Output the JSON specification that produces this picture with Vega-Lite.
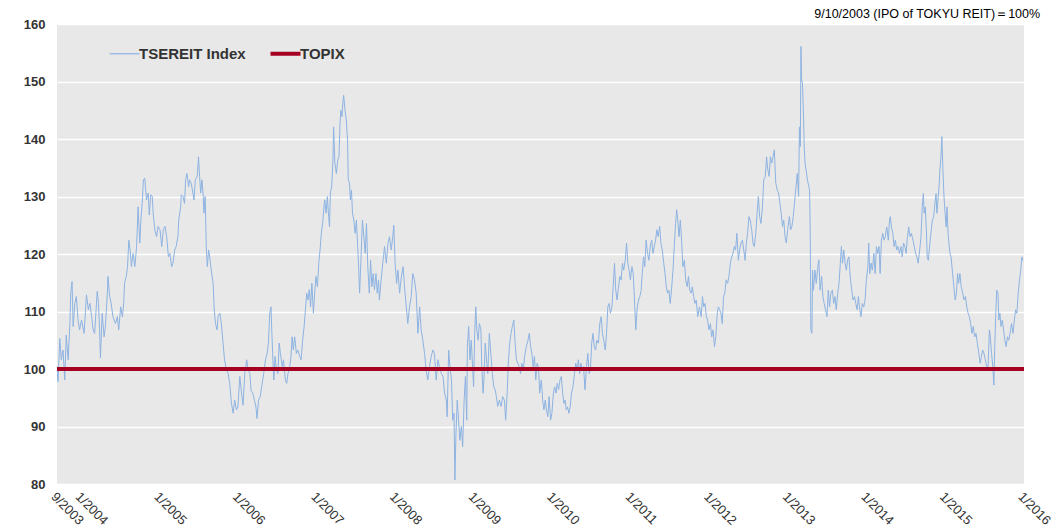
{
  "$schema": "https://vega.github.io/schema/vega-lite/v6.json",
  "width": 967,
  "height": 460,
  "autosize": {"type": "none"},
  "padding": {"left": 57, "top": 24, "right": 40, "bottom": 45},
  "background": "white",
  "config": {"view": {"fill": "#e8e8e8", "stroke": null}, "font": "Liberation Sans"},
  "title": {"text": "9/10/2003 (IPO of TOKYU REIT)＝100%", "anchor": "end", "fontSize": 12.5, "fontWeight": "normal", "color": "#000000", "dx": -12, "dy": 6, "offset": 4, "font": "Liberation Sans"},
  "data": {"values": [
    {"d":"2003-09-10","v":100,"s":"TSEREIT Index"},
    {"d":"2003-09-15","v":97.8,"s":"TSEREIT Index"},
    {"d":"2003-09-23","v":105.3,"s":"TSEREIT Index"},
    {"d":"2003-09-30","v":101.6,"s":"TSEREIT Index"},
    {"d":"2003-10-08","v":103.3,"s":"TSEREIT Index"},
    {"d":"2003-10-16","v":98.1,"s":"TSEREIT Index"},
    {"d":"2003-10-23","v":105.9,"s":"TSEREIT Index"},
    {"d":"2003-11-01","v":101.6,"s":"TSEREIT Index"},
    {"d":"2003-11-09","v":107.9,"s":"TSEREIT Index"},
    {"d":"2003-11-13","v":113.2,"s":"TSEREIT Index"},
    {"d":"2003-11-19","v":115.2,"s":"TSEREIT Index"},
    {"d":"2003-11-24","v":107.4,"s":"TSEREIT Index"},
    {"d":"2003-12-02","v":111.4,"s":"TSEREIT Index"},
    {"d":"2003-12-09","v":112.6,"s":"TSEREIT Index"},
    {"d":"2003-12-17","v":108.5,"s":"TSEREIT Index"},
    {"d":"2003-12-24","v":106.8,"s":"TSEREIT Index"},
    {"d":"2004-01-02","v":108.5,"s":"TSEREIT Index"},
    {"d":"2004-01-14","v":106.2,"s":"TSEREIT Index"},
    {"d":"2004-01-25","v":112.9,"s":"TSEREIT Index"},
    {"d":"2004-02-03","v":110.3,"s":"TSEREIT Index"},
    {"d":"2004-02-10","v":111.4,"s":"TSEREIT Index"},
    {"d":"2004-02-18","v":109.1,"s":"TSEREIT Index"},
    {"d":"2004-02-25","v":106.8,"s":"TSEREIT Index"},
    {"d":"2004-03-03","v":106.2,"s":"TSEREIT Index"},
    {"d":"2004-03-15","v":113.5,"s":"TSEREIT Index"},
    {"d":"2004-03-21","v":111.4,"s":"TSEREIT Index"},
    {"d":"2004-03-26","v":106.8,"s":"TSEREIT Index"},
    {"d":"2004-03-30","v":101.9,"s":"TSEREIT Index"},
    {"d":"2004-04-07","v":109.7,"s":"TSEREIT Index"},
    {"d":"2004-04-16","v":105.6,"s":"TSEREIT Index"},
    {"d":"2004-04-22","v":107.4,"s":"TSEREIT Index"},
    {"d":"2004-05-01","v":113.2,"s":"TSEREIT Index"},
    {"d":"2004-05-04","v":116.1,"s":"TSEREIT Index"},
    {"d":"2004-05-12","v":112.6,"s":"TSEREIT Index"},
    {"d":"2004-05-19","v":111.4,"s":"TSEREIT Index"},
    {"d":"2004-05-27","v":109.1,"s":"TSEREIT Index"},
    {"d":"2004-06-08","v":107.9,"s":"TSEREIT Index"},
    {"d":"2004-06-17","v":109.1,"s":"TSEREIT Index"},
    {"d":"2004-06-23","v":106.8,"s":"TSEREIT Index"},
    {"d":"2004-07-02","v":110.8,"s":"TSEREIT Index"},
    {"d":"2004-07-10","v":109.1,"s":"TSEREIT Index"},
    {"d":"2004-07-16","v":111.4,"s":"TSEREIT Index"},
    {"d":"2004-07-20","v":114.9,"s":"TSEREIT Index"},
    {"d":"2004-07-28","v":116.1,"s":"TSEREIT Index"},
    {"d":"2004-08-03","v":117.8,"s":"TSEREIT Index"},
    {"d":"2004-08-09","v":122.4,"s":"TSEREIT Index"},
    {"d":"2004-08-15","v":120.7,"s":"TSEREIT Index"},
    {"d":"2004-08-21","v":117.8,"s":"TSEREIT Index"},
    {"d":"2004-08-29","v":120.1,"s":"TSEREIT Index"},
    {"d":"2004-09-06","v":117.8,"s":"TSEREIT Index"},
    {"d":"2004-09-14","v":121.3,"s":"TSEREIT Index"},
    {"d":"2004-09-21","v":128.2,"s":"TSEREIT Index"},
    {"d":"2004-09-29","v":121.9,"s":"TSEREIT Index"},
    {"d":"2004-10-04","v":125.9,"s":"TSEREIT Index"},
    {"d":"2004-10-10","v":128.8,"s":"TSEREIT Index"},
    {"d":"2004-10-16","v":132.9,"s":"TSEREIT Index"},
    {"d":"2004-10-22","v":133.2,"s":"TSEREIT Index"},
    {"d":"2004-10-30","v":129.4,"s":"TSEREIT Index"},
    {"d":"2004-11-07","v":130.6,"s":"TSEREIT Index"},
    {"d":"2004-11-12","v":126.8,"s":"TSEREIT Index"},
    {"d":"2004-11-19","v":130.3,"s":"TSEREIT Index"},
    {"d":"2004-11-26","v":130.0,"s":"TSEREIT Index"},
    {"d":"2004-11-30","v":127.1,"s":"TSEREIT Index"},
    {"d":"2004-12-08","v":124.2,"s":"TSEREIT Index"},
    {"d":"2004-12-16","v":123.0,"s":"TSEREIT Index"},
    {"d":"2004-12-23","v":124.8,"s":"TSEREIT Index"},
    {"d":"2005-01-01","v":124.2,"s":"TSEREIT Index"},
    {"d":"2005-01-09","v":121.3,"s":"TSEREIT Index"},
    {"d":"2005-01-16","v":124.2,"s":"TSEREIT Index"},
    {"d":"2005-01-24","v":124.8,"s":"TSEREIT Index"},
    {"d":"2005-02-01","v":123.0,"s":"TSEREIT Index"},
    {"d":"2005-02-09","v":119.5,"s":"TSEREIT Index"},
    {"d":"2005-02-16","v":120.1,"s":"TSEREIT Index"},
    {"d":"2005-02-24","v":117.8,"s":"TSEREIT Index"},
    {"d":"2005-03-02","v":118.4,"s":"TSEREIT Index"},
    {"d":"2005-03-10","v":120.7,"s":"TSEREIT Index"},
    {"d":"2005-03-17","v":121.3,"s":"TSEREIT Index"},
    {"d":"2005-03-25","v":123.0,"s":"TSEREIT Index"},
    {"d":"2005-03-29","v":125.9,"s":"TSEREIT Index"},
    {"d":"2005-04-07","v":128.2,"s":"TSEREIT Index"},
    {"d":"2005-04-10","v":130.3,"s":"TSEREIT Index"},
    {"d":"2005-04-18","v":130.0,"s":"TSEREIT Index"},
    {"d":"2005-04-25","v":128.8,"s":"TSEREIT Index"},
    {"d":"2005-04-30","v":132.9,"s":"TSEREIT Index"},
    {"d":"2005-05-06","v":134.0,"s":"TSEREIT Index"},
    {"d":"2005-05-14","v":131.7,"s":"TSEREIT Index"},
    {"d":"2005-05-18","v":132.9,"s":"TSEREIT Index"},
    {"d":"2005-05-26","v":132.3,"s":"TSEREIT Index"},
    {"d":"2005-06-03","v":130.6,"s":"TSEREIT Index"},
    {"d":"2005-06-08","v":129.4,"s":"TSEREIT Index"},
    {"d":"2005-06-14","v":132.9,"s":"TSEREIT Index"},
    {"d":"2005-06-23","v":133.5,"s":"TSEREIT Index"},
    {"d":"2005-06-29","v":136.9,"s":"TSEREIT Index"},
    {"d":"2005-07-04","v":133.5,"s":"TSEREIT Index"},
    {"d":"2005-07-09","v":130.6,"s":"TSEREIT Index"},
    {"d":"2005-07-15","v":132.9,"s":"TSEREIT Index"},
    {"d":"2005-07-21","v":130.0,"s":"TSEREIT Index"},
    {"d":"2005-07-24","v":127.1,"s":"TSEREIT Index"},
    {"d":"2005-07-30","v":130.0,"s":"TSEREIT Index"},
    {"d":"2005-08-04","v":121.3,"s":"TSEREIT Index"},
    {"d":"2005-08-09","v":117.8,"s":"TSEREIT Index"},
    {"d":"2005-08-15","v":120.7,"s":"TSEREIT Index"},
    {"d":"2005-08-20","v":119.5,"s":"TSEREIT Index"},
    {"d":"2005-08-27","v":117.2,"s":"TSEREIT Index"},
    {"d":"2005-09-05","v":114.9,"s":"TSEREIT Index"},
    {"d":"2005-09-10","v":110.3,"s":"TSEREIT Index"},
    {"d":"2005-09-16","v":107.9,"s":"TSEREIT Index"},
    {"d":"2005-09-23","v":106.8,"s":"TSEREIT Index"},
    {"d":"2005-09-28","v":109.1,"s":"TSEREIT Index"},
    {"d":"2005-10-06","v":109.7,"s":"TSEREIT Index"},
    {"d":"2005-10-13","v":107.9,"s":"TSEREIT Index"},
    {"d":"2005-10-21","v":104.5,"s":"TSEREIT Index"},
    {"d":"2005-10-28","v":101.6,"s":"TSEREIT Index"},
    {"d":"2005-11-06","v":99.8,"s":"TSEREIT Index"},
    {"d":"2005-11-14","v":99.2,"s":"TSEREIT Index"},
    {"d":"2005-11-21","v":97.5,"s":"TSEREIT Index"},
    {"d":"2005-11-29","v":94.0,"s":"TSEREIT Index"},
    {"d":"2005-12-07","v":92.3,"s":"TSEREIT Index"},
    {"d":"2005-12-14","v":94.6,"s":"TSEREIT Index"},
    {"d":"2005-12-22","v":92.9,"s":"TSEREIT Index"},
    {"d":"2005-12-29","v":93.4,"s":"TSEREIT Index"},
    {"d":"2006-01-07","v":98.7,"s":"TSEREIT Index"},
    {"d":"2006-01-15","v":95.8,"s":"TSEREIT Index"},
    {"d":"2006-01-22","v":93.7,"s":"TSEREIT Index"},
    {"d":"2006-01-30","v":99.2,"s":"TSEREIT Index"},
    {"d":"2006-02-08","v":101.6,"s":"TSEREIT Index"},
    {"d":"2006-02-15","v":99.8,"s":"TSEREIT Index"},
    {"d":"2006-02-23","v":99.2,"s":"TSEREIT Index"},
    {"d":"2006-02-28","v":96.3,"s":"TSEREIT Index"},
    {"d":"2006-03-08","v":95.8,"s":"TSEREIT Index"},
    {"d":"2006-03-16","v":94.6,"s":"TSEREIT Index"},
    {"d":"2006-03-23","v":93.4,"s":"TSEREIT Index"},
    {"d":"2006-03-28","v":91.4,"s":"TSEREIT Index"},
    {"d":"2006-04-04","v":94.6,"s":"TSEREIT Index"},
    {"d":"2006-04-12","v":95.2,"s":"TSEREIT Index"},
    {"d":"2006-04-19","v":97.0,"s":"TSEREIT Index"},
    {"d":"2006-04-28","v":99.2,"s":"TSEREIT Index"},
    {"d":"2006-05-06","v":101.6,"s":"TSEREIT Index"},
    {"d":"2006-05-14","v":102.7,"s":"TSEREIT Index"},
    {"d":"2006-05-20","v":104.5,"s":"TSEREIT Index"},
    {"d":"2006-05-26","v":109.7,"s":"TSEREIT Index"},
    {"d":"2006-06-01","v":110.8,"s":"TSEREIT Index"},
    {"d":"2006-06-05","v":106.2,"s":"TSEREIT Index"},
    {"d":"2006-06-10","v":101.6,"s":"TSEREIT Index"},
    {"d":"2006-06-14","v":98.1,"s":"TSEREIT Index"},
    {"d":"2006-06-20","v":102.2,"s":"TSEREIT Index"},
    {"d":"2006-06-26","v":99.8,"s":"TSEREIT Index"},
    {"d":"2006-07-03","v":99.2,"s":"TSEREIT Index"},
    {"d":"2006-07-09","v":104.5,"s":"TSEREIT Index"},
    {"d":"2006-07-15","v":102.7,"s":"TSEREIT Index"},
    {"d":"2006-07-23","v":100.4,"s":"TSEREIT Index"},
    {"d":"2006-07-29","v":101.6,"s":"TSEREIT Index"},
    {"d":"2006-08-07","v":98.1,"s":"TSEREIT Index"},
    {"d":"2006-08-13","v":97.5,"s":"TSEREIT Index"},
    {"d":"2006-08-19","v":99.2,"s":"TSEREIT Index"},
    {"d":"2006-08-27","v":100.4,"s":"TSEREIT Index"},
    {"d":"2006-09-02","v":102.2,"s":"TSEREIT Index"},
    {"d":"2006-09-07","v":105.6,"s":"TSEREIT Index"},
    {"d":"2006-09-13","v":103.3,"s":"TSEREIT Index"},
    {"d":"2006-09-19","v":105.6,"s":"TSEREIT Index"},
    {"d":"2006-09-27","v":102.7,"s":"TSEREIT Index"},
    {"d":"2006-10-04","v":103.3,"s":"TSEREIT Index"},
    {"d":"2006-10-12","v":102.2,"s":"TSEREIT Index"},
    {"d":"2006-10-19","v":101.6,"s":"TSEREIT Index"},
    {"d":"2006-10-26","v":105.0,"s":"TSEREIT Index"},
    {"d":"2006-11-02","v":107.4,"s":"TSEREIT Index"},
    {"d":"2006-11-08","v":110.3,"s":"TSEREIT Index"},
    {"d":"2006-11-14","v":113.2,"s":"TSEREIT Index"},
    {"d":"2006-11-20","v":112.0,"s":"TSEREIT Index"},
    {"d":"2006-11-26","v":113.8,"s":"TSEREIT Index"},
    {"d":"2006-12-02","v":110.8,"s":"TSEREIT Index"},
    {"d":"2006-12-08","v":114.9,"s":"TSEREIT Index"},
    {"d":"2006-12-15","v":109.7,"s":"TSEREIT Index"},
    {"d":"2006-12-21","v":113.2,"s":"TSEREIT Index"},
    {"d":"2006-12-27","v":116.1,"s":"TSEREIT Index"},
    {"d":"2007-01-03","v":114.3,"s":"TSEREIT Index"},
    {"d":"2007-01-09","v":118.4,"s":"TSEREIT Index"},
    {"d":"2007-01-15","v":120.7,"s":"TSEREIT Index"},
    {"d":"2007-01-21","v":123.6,"s":"TSEREIT Index"},
    {"d":"2007-01-27","v":125.3,"s":"TSEREIT Index"},
    {"d":"2007-02-02","v":128.2,"s":"TSEREIT Index"},
    {"d":"2007-02-06","v":129.4,"s":"TSEREIT Index"},
    {"d":"2007-02-12","v":127.1,"s":"TSEREIT Index"},
    {"d":"2007-02-18","v":130.0,"s":"TSEREIT Index"},
    {"d":"2007-02-24","v":126.5,"s":"TSEREIT Index"},
    {"d":"2007-02-28","v":124.7,"s":"TSEREIT Index"},
    {"d":"2007-03-04","v":130.6,"s":"TSEREIT Index"},
    {"d":"2007-03-10","v":131.7,"s":"TSEREIT Index"},
    {"d":"2007-03-16","v":136.3,"s":"TSEREIT Index"},
    {"d":"2007-03-19","v":142.1,"s":"TSEREIT Index"},
    {"d":"2007-03-25","v":135.8,"s":"TSEREIT Index"},
    {"d":"2007-04-01","v":134.0,"s":"TSEREIT Index"},
    {"d":"2007-04-07","v":136.3,"s":"TSEREIT Index"},
    {"d":"2007-04-13","v":136.9,"s":"TSEREIT Index"},
    {"d":"2007-04-18","v":142.7,"s":"TSEREIT Index"},
    {"d":"2007-04-22","v":145.0,"s":"TSEREIT Index"},
    {"d":"2007-04-27","v":143.9,"s":"TSEREIT Index"},
    {"d":"2007-05-02","v":146.8,"s":"TSEREIT Index"},
    {"d":"2007-05-05","v":147.6,"s":"TSEREIT Index"},
    {"d":"2007-05-11","v":145.0,"s":"TSEREIT Index"},
    {"d":"2007-05-17","v":143.3,"s":"TSEREIT Index"},
    {"d":"2007-05-23","v":139.8,"s":"TSEREIT Index"},
    {"d":"2007-05-26","v":132.9,"s":"TSEREIT Index"},
    {"d":"2007-06-01","v":132.3,"s":"TSEREIT Index"},
    {"d":"2007-06-05","v":129.4,"s":"TSEREIT Index"},
    {"d":"2007-06-10","v":131.1,"s":"TSEREIT Index"},
    {"d":"2007-06-15","v":127.1,"s":"TSEREIT Index"},
    {"d":"2007-06-21","v":125.9,"s":"TSEREIT Index"},
    {"d":"2007-06-27","v":123.6,"s":"TSEREIT Index"},
    {"d":"2007-07-03","v":125.9,"s":"TSEREIT Index"},
    {"d":"2007-07-09","v":121.3,"s":"TSEREIT Index"},
    {"d":"2007-07-14","v":117.2,"s":"TSEREIT Index"},
    {"d":"2007-07-18","v":113.2,"s":"TSEREIT Index"},
    {"d":"2007-07-24","v":118.9,"s":"TSEREIT Index"},
    {"d":"2007-07-31","v":125.9,"s":"TSEREIT Index"},
    {"d":"2007-08-07","v":123.0,"s":"TSEREIT Index"},
    {"d":"2007-08-13","v":120.1,"s":"TSEREIT Index"},
    {"d":"2007-08-19","v":125.3,"s":"TSEREIT Index"},
    {"d":"2007-08-25","v":117.8,"s":"TSEREIT Index"},
    {"d":"2007-09-01","v":113.2,"s":"TSEREIT Index"},
    {"d":"2007-09-07","v":118.9,"s":"TSEREIT Index"},
    {"d":"2007-09-13","v":114.3,"s":"TSEREIT Index"},
    {"d":"2007-09-19","v":116.6,"s":"TSEREIT Index"},
    {"d":"2007-09-25","v":113.8,"s":"TSEREIT Index"},
    {"d":"2007-10-02","v":116.6,"s":"TSEREIT Index"},
    {"d":"2007-10-08","v":113.2,"s":"TSEREIT Index"},
    {"d":"2007-10-14","v":115.5,"s":"TSEREIT Index"},
    {"d":"2007-10-18","v":112.0,"s":"TSEREIT Index"},
    {"d":"2007-10-26","v":115.5,"s":"TSEREIT Index"},
    {"d":"2007-11-04","v":118.9,"s":"TSEREIT Index"},
    {"d":"2007-11-11","v":121.3,"s":"TSEREIT Index"},
    {"d":"2007-11-19","v":118.4,"s":"TSEREIT Index"},
    {"d":"2007-11-27","v":121.9,"s":"TSEREIT Index"},
    {"d":"2007-12-04","v":123.0,"s":"TSEREIT Index"},
    {"d":"2007-12-12","v":120.7,"s":"TSEREIT Index"},
    {"d":"2007-12-19","v":123.0,"s":"TSEREIT Index"},
    {"d":"2007-12-24","v":125.0,"s":"TSEREIT Index"},
    {"d":"2007-12-30","v":118.4,"s":"TSEREIT Index"},
    {"d":"2008-01-06","v":114.9,"s":"TSEREIT Index"},
    {"d":"2008-01-12","v":117.2,"s":"TSEREIT Index"},
    {"d":"2008-01-20","v":113.2,"s":"TSEREIT Index"},
    {"d":"2008-01-28","v":116.0,"s":"TSEREIT Index"},
    {"d":"2008-02-05","v":117.8,"s":"TSEREIT Index"},
    {"d":"2008-02-13","v":113.7,"s":"TSEREIT Index"},
    {"d":"2008-02-20","v":110.8,"s":"TSEREIT Index"},
    {"d":"2008-02-27","v":107.9,"s":"TSEREIT Index"},
    {"d":"2008-03-06","v":110.8,"s":"TSEREIT Index"},
    {"d":"2008-03-14","v":112.6,"s":"TSEREIT Index"},
    {"d":"2008-03-21","v":116.6,"s":"TSEREIT Index"},
    {"d":"2008-03-29","v":115.5,"s":"TSEREIT Index"},
    {"d":"2008-04-06","v":113.2,"s":"TSEREIT Index"},
    {"d":"2008-04-14","v":106.2,"s":"TSEREIT Index"},
    {"d":"2008-04-22","v":110.8,"s":"TSEREIT Index"},
    {"d":"2008-04-29","v":106.8,"s":"TSEREIT Index"},
    {"d":"2008-05-07","v":105.0,"s":"TSEREIT Index"},
    {"d":"2008-05-15","v":102.7,"s":"TSEREIT Index"},
    {"d":"2008-05-22","v":99.8,"s":"TSEREIT Index"},
    {"d":"2008-05-30","v":98.1,"s":"TSEREIT Index"},
    {"d":"2008-06-07","v":100.4,"s":"TSEREIT Index"},
    {"d":"2008-06-15","v":102.2,"s":"TSEREIT Index"},
    {"d":"2008-06-23","v":103.3,"s":"TSEREIT Index"},
    {"d":"2008-06-30","v":102.7,"s":"TSEREIT Index"},
    {"d":"2008-07-08","v":98.1,"s":"TSEREIT Index"},
    {"d":"2008-07-16","v":101.6,"s":"TSEREIT Index"},
    {"d":"2008-07-23","v":100.4,"s":"TSEREIT Index"},
    {"d":"2008-08-01","v":99.2,"s":"TSEREIT Index"},
    {"d":"2008-08-09","v":98.7,"s":"TSEREIT Index"},
    {"d":"2008-08-16","v":95.8,"s":"TSEREIT Index"},
    {"d":"2008-08-24","v":94.6,"s":"TSEREIT Index"},
    {"d":"2008-08-28","v":91.7,"s":"TSEREIT Index"},
    {"d":"2008-09-04","v":103.3,"s":"TSEREIT Index"},
    {"d":"2008-09-10","v":100.4,"s":"TSEREIT Index"},
    {"d":"2008-09-17","v":98.1,"s":"TSEREIT Index"},
    {"d":"2008-09-23","v":91.1,"s":"TSEREIT Index"},
    {"d":"2008-09-29","v":92.3,"s":"TSEREIT Index"},
    {"d":"2008-10-03","v":80.7,"s":"TSEREIT Index"},
    {"d":"2008-10-08","v":88.8,"s":"TSEREIT Index"},
    {"d":"2008-10-14","v":94.6,"s":"TSEREIT Index"},
    {"d":"2008-10-20","v":91.1,"s":"TSEREIT Index"},
    {"d":"2008-10-26","v":87.6,"s":"TSEREIT Index"},
    {"d":"2008-11-02","v":90.0,"s":"TSEREIT Index"},
    {"d":"2008-11-08","v":86.5,"s":"TSEREIT Index"},
    {"d":"2008-11-15","v":94.6,"s":"TSEREIT Index"},
    {"d":"2008-11-21","v":98.7,"s":"TSEREIT Index"},
    {"d":"2008-11-27","v":91.1,"s":"TSEREIT Index"},
    {"d":"2008-11-30","v":103.9,"s":"TSEREIT Index"},
    {"d":"2008-12-06","v":107.4,"s":"TSEREIT Index"},
    {"d":"2008-12-12","v":101.6,"s":"TSEREIT Index"},
    {"d":"2008-12-18","v":105.0,"s":"TSEREIT Index"},
    {"d":"2008-12-25","v":99.8,"s":"TSEREIT Index"},
    {"d":"2008-12-29","v":96.9,"s":"TSEREIT Index"},
    {"d":"2009-01-03","v":106.2,"s":"TSEREIT Index"},
    {"d":"2009-01-08","v":110.8,"s":"TSEREIT Index"},
    {"d":"2009-01-13","v":106.8,"s":"TSEREIT Index"},
    {"d":"2009-01-19","v":105.0,"s":"TSEREIT Index"},
    {"d":"2009-01-25","v":107.9,"s":"TSEREIT Index"},
    {"d":"2009-02-01","v":106.8,"s":"TSEREIT Index"},
    {"d":"2009-02-05","v":100.4,"s":"TSEREIT Index"},
    {"d":"2009-02-11","v":95.8,"s":"TSEREIT Index"},
    {"d":"2009-02-15","v":98.1,"s":"TSEREIT Index"},
    {"d":"2009-02-21","v":104.5,"s":"TSEREIT Index"},
    {"d":"2009-02-27","v":101.6,"s":"TSEREIT Index"},
    {"d":"2009-03-05","v":99.2,"s":"TSEREIT Index"},
    {"d":"2009-03-12","v":106.2,"s":"TSEREIT Index"},
    {"d":"2009-03-20","v":102.2,"s":"TSEREIT Index"},
    {"d":"2009-03-26","v":99.2,"s":"TSEREIT Index"},
    {"d":"2009-04-02","v":96.9,"s":"TSEREIT Index"},
    {"d":"2009-04-08","v":96.4,"s":"TSEREIT Index"},
    {"d":"2009-04-14","v":95.2,"s":"TSEREIT Index"},
    {"d":"2009-04-20","v":93.5,"s":"TSEREIT Index"},
    {"d":"2009-04-28","v":94.6,"s":"TSEREIT Index"},
    {"d":"2009-05-06","v":93.5,"s":"TSEREIT Index"},
    {"d":"2009-05-13","v":95.2,"s":"TSEREIT Index"},
    {"d":"2009-05-21","v":94.6,"s":"TSEREIT Index"},
    {"d":"2009-05-27","v":91.1,"s":"TSEREIT Index"},
    {"d":"2009-06-03","v":95.8,"s":"TSEREIT Index"},
    {"d":"2009-06-09","v":101.6,"s":"TSEREIT Index"},
    {"d":"2009-06-15","v":104.5,"s":"TSEREIT Index"},
    {"d":"2009-06-21","v":106.2,"s":"TSEREIT Index"},
    {"d":"2009-06-27","v":107.4,"s":"TSEREIT Index"},
    {"d":"2009-07-04","v":108.5,"s":"TSEREIT Index"},
    {"d":"2009-07-10","v":104.5,"s":"TSEREIT Index"},
    {"d":"2009-07-16","v":101.6,"s":"TSEREIT Index"},
    {"d":"2009-07-23","v":101.0,"s":"TSEREIT Index"},
    {"d":"2009-07-29","v":100.4,"s":"TSEREIT Index"},
    {"d":"2009-08-04","v":99.2,"s":"TSEREIT Index"},
    {"d":"2009-08-10","v":101.0,"s":"TSEREIT Index"},
    {"d":"2009-08-17","v":99.8,"s":"TSEREIT Index"},
    {"d":"2009-08-23","v":102.2,"s":"TSEREIT Index"},
    {"d":"2009-08-31","v":103.9,"s":"TSEREIT Index"},
    {"d":"2009-09-08","v":105.0,"s":"TSEREIT Index"},
    {"d":"2009-09-14","v":106.2,"s":"TSEREIT Index"},
    {"d":"2009-09-20","v":103.9,"s":"TSEREIT Index"},
    {"d":"2009-09-26","v":102.7,"s":"TSEREIT Index"},
    {"d":"2009-10-02","v":100.4,"s":"TSEREIT Index"},
    {"d":"2009-10-08","v":102.2,"s":"TSEREIT Index"},
    {"d":"2009-10-14","v":98.1,"s":"TSEREIT Index"},
    {"d":"2009-10-20","v":101.0,"s":"TSEREIT Index"},
    {"d":"2009-10-27","v":100.4,"s":"TSEREIT Index"},
    {"d":"2009-11-01","v":95.8,"s":"TSEREIT Index"},
    {"d":"2009-11-09","v":98.1,"s":"TSEREIT Index"},
    {"d":"2009-11-15","v":94.6,"s":"TSEREIT Index"},
    {"d":"2009-11-21","v":92.9,"s":"TSEREIT Index"},
    {"d":"2009-11-27","v":94.6,"s":"TSEREIT Index"},
    {"d":"2009-12-03","v":92.9,"s":"TSEREIT Index"},
    {"d":"2009-12-09","v":91.7,"s":"TSEREIT Index"},
    {"d":"2009-12-15","v":95.2,"s":"TSEREIT Index"},
    {"d":"2009-12-22","v":91.1,"s":"TSEREIT Index"},
    {"d":"2009-12-28","v":92.3,"s":"TSEREIT Index"},
    {"d":"2010-01-04","v":95.8,"s":"TSEREIT Index"},
    {"d":"2010-01-10","v":96.9,"s":"TSEREIT Index"},
    {"d":"2010-01-16","v":95.8,"s":"TSEREIT Index"},
    {"d":"2010-01-22","v":97.5,"s":"TSEREIT Index"},
    {"d":"2010-01-28","v":96.4,"s":"TSEREIT Index"},
    {"d":"2010-02-04","v":98.1,"s":"TSEREIT Index"},
    {"d":"2010-02-10","v":98.7,"s":"TSEREIT Index"},
    {"d":"2010-02-16","v":95.8,"s":"TSEREIT Index"},
    {"d":"2010-02-22","v":94.0,"s":"TSEREIT Index"},
    {"d":"2010-02-27","v":94.6,"s":"TSEREIT Index"},
    {"d":"2010-03-05","v":92.9,"s":"TSEREIT Index"},
    {"d":"2010-03-11","v":93.4,"s":"TSEREIT Index"},
    {"d":"2010-03-17","v":92.3,"s":"TSEREIT Index"},
    {"d":"2010-03-23","v":93.4,"s":"TSEREIT Index"},
    {"d":"2010-03-29","v":95.8,"s":"TSEREIT Index"},
    {"d":"2010-04-05","v":96.9,"s":"TSEREIT Index"},
    {"d":"2010-04-12","v":99.2,"s":"TSEREIT Index"},
    {"d":"2010-04-18","v":101.0,"s":"TSEREIT Index"},
    {"d":"2010-04-24","v":99.8,"s":"TSEREIT Index"},
    {"d":"2010-04-30","v":101.6,"s":"TSEREIT Index"},
    {"d":"2010-05-06","v":99.2,"s":"TSEREIT Index"},
    {"d":"2010-05-12","v":101.0,"s":"TSEREIT Index"},
    {"d":"2010-05-18","v":99.8,"s":"TSEREIT Index"},
    {"d":"2010-05-24","v":100.4,"s":"TSEREIT Index"},
    {"d":"2010-05-31","v":96.4,"s":"TSEREIT Index"},
    {"d":"2010-06-07","v":100.4,"s":"TSEREIT Index"},
    {"d":"2010-06-13","v":102.7,"s":"TSEREIT Index"},
    {"d":"2010-06-19","v":99.2,"s":"TSEREIT Index"},
    {"d":"2010-06-25","v":99.8,"s":"TSEREIT Index"},
    {"d":"2010-07-01","v":104.5,"s":"TSEREIT Index"},
    {"d":"2010-07-07","v":106.2,"s":"TSEREIT Index"},
    {"d":"2010-07-13","v":103.9,"s":"TSEREIT Index"},
    {"d":"2010-07-19","v":103.3,"s":"TSEREIT Index"},
    {"d":"2010-07-25","v":105.0,"s":"TSEREIT Index"},
    {"d":"2010-08-01","v":104.5,"s":"TSEREIT Index"},
    {"d":"2010-08-08","v":108.0,"s":"TSEREIT Index"},
    {"d":"2010-08-14","v":109.1,"s":"TSEREIT Index"},
    {"d":"2010-08-20","v":106.2,"s":"TSEREIT Index"},
    {"d":"2010-08-26","v":105.0,"s":"TSEREIT Index"},
    {"d":"2010-09-02","v":103.3,"s":"TSEREIT Index"},
    {"d":"2010-09-08","v":106.2,"s":"TSEREIT Index"},
    {"d":"2010-09-14","v":110.8,"s":"TSEREIT Index"},
    {"d":"2010-09-20","v":111.4,"s":"TSEREIT Index"},
    {"d":"2010-09-26","v":109.7,"s":"TSEREIT Index"},
    {"d":"2010-10-03","v":110.8,"s":"TSEREIT Index"},
    {"d":"2010-10-09","v":114.3,"s":"TSEREIT Index"},
    {"d":"2010-10-15","v":118.4,"s":"TSEREIT Index"},
    {"d":"2010-10-21","v":113.7,"s":"TSEREIT Index"},
    {"d":"2010-10-27","v":112.0,"s":"TSEREIT Index"},
    {"d":"2010-11-03","v":114.3,"s":"TSEREIT Index"},
    {"d":"2010-11-09","v":116.1,"s":"TSEREIT Index"},
    {"d":"2010-11-15","v":115.5,"s":"TSEREIT Index"},
    {"d":"2010-11-21","v":118.4,"s":"TSEREIT Index"},
    {"d":"2010-11-27","v":117.2,"s":"TSEREIT Index"},
    {"d":"2010-12-04","v":118.9,"s":"TSEREIT Index"},
    {"d":"2010-12-10","v":121.9,"s":"TSEREIT Index"},
    {"d":"2010-12-16","v":118.4,"s":"TSEREIT Index"},
    {"d":"2010-12-22","v":117.2,"s":"TSEREIT Index"},
    {"d":"2010-12-28","v":115.5,"s":"TSEREIT Index"},
    {"d":"2011-01-04","v":117.8,"s":"TSEREIT Index"},
    {"d":"2011-01-10","v":116.6,"s":"TSEREIT Index"},
    {"d":"2011-01-16","v":112.0,"s":"TSEREIT Index"},
    {"d":"2011-01-22","v":106.8,"s":"TSEREIT Index"},
    {"d":"2011-01-29","v":110.8,"s":"TSEREIT Index"},
    {"d":"2011-02-04","v":112.0,"s":"TSEREIT Index"},
    {"d":"2011-02-10","v":112.6,"s":"TSEREIT Index"},
    {"d":"2011-02-16","v":113.7,"s":"TSEREIT Index"},
    {"d":"2011-02-21","v":116.6,"s":"TSEREIT Index"},
    {"d":"2011-02-27","v":119.5,"s":"TSEREIT Index"},
    {"d":"2011-03-05","v":117.8,"s":"TSEREIT Index"},
    {"d":"2011-03-11","v":122.4,"s":"TSEREIT Index"},
    {"d":"2011-03-18","v":120.1,"s":"TSEREIT Index"},
    {"d":"2011-03-24","v":118.9,"s":"TSEREIT Index"},
    {"d":"2011-03-30","v":121.3,"s":"TSEREIT Index"},
    {"d":"2011-04-06","v":122.4,"s":"TSEREIT Index"},
    {"d":"2011-04-12","v":120.1,"s":"TSEREIT Index"},
    {"d":"2011-04-18","v":121.3,"s":"TSEREIT Index"},
    {"d":"2011-04-24","v":122.4,"s":"TSEREIT Index"},
    {"d":"2011-04-30","v":124.2,"s":"TSEREIT Index"},
    {"d":"2011-05-06","v":123.0,"s":"TSEREIT Index"},
    {"d":"2011-05-13","v":124.8,"s":"TSEREIT Index"},
    {"d":"2011-05-19","v":121.9,"s":"TSEREIT Index"},
    {"d":"2011-05-25","v":120.7,"s":"TSEREIT Index"},
    {"d":"2011-06-01","v":118.4,"s":"TSEREIT Index"},
    {"d":"2011-06-07","v":116.6,"s":"TSEREIT Index"},
    {"d":"2011-06-13","v":114.3,"s":"TSEREIT Index"},
    {"d":"2011-06-19","v":113.2,"s":"TSEREIT Index"},
    {"d":"2011-06-25","v":113.7,"s":"TSEREIT Index"},
    {"d":"2011-07-01","v":111.4,"s":"TSEREIT Index"},
    {"d":"2011-07-07","v":113.7,"s":"TSEREIT Index"},
    {"d":"2011-07-14","v":117.2,"s":"TSEREIT Index"},
    {"d":"2011-07-20","v":121.3,"s":"TSEREIT Index"},
    {"d":"2011-07-26","v":125.3,"s":"TSEREIT Index"},
    {"d":"2011-07-31","v":127.7,"s":"TSEREIT Index"},
    {"d":"2011-08-05","v":125.9,"s":"TSEREIT Index"},
    {"d":"2011-08-11","v":123.0,"s":"TSEREIT Index"},
    {"d":"2011-08-17","v":125.9,"s":"TSEREIT Index"},
    {"d":"2011-08-23","v":122.4,"s":"TSEREIT Index"},
    {"d":"2011-08-29","v":117.8,"s":"TSEREIT Index"},
    {"d":"2011-09-05","v":118.9,"s":"TSEREIT Index"},
    {"d":"2011-09-11","v":115.5,"s":"TSEREIT Index"},
    {"d":"2011-09-18","v":114.3,"s":"TSEREIT Index"},
    {"d":"2011-09-24","v":116.1,"s":"TSEREIT Index"},
    {"d":"2011-09-30","v":113.7,"s":"TSEREIT Index"},
    {"d":"2011-10-06","v":113.2,"s":"TSEREIT Index"},
    {"d":"2011-10-12","v":114.3,"s":"TSEREIT Index"},
    {"d":"2011-10-18","v":112.6,"s":"TSEREIT Index"},
    {"d":"2011-10-24","v":111.4,"s":"TSEREIT Index"},
    {"d":"2011-10-30","v":112.0,"s":"TSEREIT Index"},
    {"d":"2011-11-06","v":109.1,"s":"TSEREIT Index"},
    {"d":"2011-11-14","v":110.8,"s":"TSEREIT Index"},
    {"d":"2011-11-22","v":109.1,"s":"TSEREIT Index"},
    {"d":"2011-11-28","v":112.6,"s":"TSEREIT Index"},
    {"d":"2011-12-04","v":110.8,"s":"TSEREIT Index"},
    {"d":"2011-12-10","v":111.4,"s":"TSEREIT Index"},
    {"d":"2011-12-16","v":109.1,"s":"TSEREIT Index"},
    {"d":"2011-12-22","v":108.5,"s":"TSEREIT Index"},
    {"d":"2011-12-28","v":106.8,"s":"TSEREIT Index"},
    {"d":"2012-01-04","v":107.9,"s":"TSEREIT Index"},
    {"d":"2012-01-10","v":105.6,"s":"TSEREIT Index"},
    {"d":"2012-01-16","v":106.8,"s":"TSEREIT Index"},
    {"d":"2012-01-23","v":103.9,"s":"TSEREIT Index"},
    {"d":"2012-01-29","v":105.6,"s":"TSEREIT Index"},
    {"d":"2012-02-05","v":109.7,"s":"TSEREIT Index"},
    {"d":"2012-02-10","v":110.8,"s":"TSEREIT Index"},
    {"d":"2012-02-16","v":110.3,"s":"TSEREIT Index"},
    {"d":"2012-02-22","v":109.7,"s":"TSEREIT Index"},
    {"d":"2012-02-28","v":107.9,"s":"TSEREIT Index"},
    {"d":"2012-03-05","v":112.6,"s":"TSEREIT Index"},
    {"d":"2012-03-11","v":113.2,"s":"TSEREIT Index"},
    {"d":"2012-03-17","v":115.5,"s":"TSEREIT Index"},
    {"d":"2012-03-24","v":114.9,"s":"TSEREIT Index"},
    {"d":"2012-03-30","v":116.1,"s":"TSEREIT Index"},
    {"d":"2012-04-06","v":118.4,"s":"TSEREIT Index"},
    {"d":"2012-04-12","v":119.5,"s":"TSEREIT Index"},
    {"d":"2012-04-18","v":120.1,"s":"TSEREIT Index"},
    {"d":"2012-04-24","v":121.3,"s":"TSEREIT Index"},
    {"d":"2012-04-30","v":120.7,"s":"TSEREIT Index"},
    {"d":"2012-05-06","v":123.6,"s":"TSEREIT Index"},
    {"d":"2012-05-13","v":118.9,"s":"TSEREIT Index"},
    {"d":"2012-05-19","v":120.7,"s":"TSEREIT Index"},
    {"d":"2012-05-25","v":121.9,"s":"TSEREIT Index"},
    {"d":"2012-06-01","v":122.4,"s":"TSEREIT Index"},
    {"d":"2012-06-07","v":120.7,"s":"TSEREIT Index"},
    {"d":"2012-06-13","v":118.9,"s":"TSEREIT Index"},
    {"d":"2012-06-19","v":121.9,"s":"TSEREIT Index"},
    {"d":"2012-06-25","v":123.6,"s":"TSEREIT Index"},
    {"d":"2012-07-01","v":126.5,"s":"TSEREIT Index"},
    {"d":"2012-07-07","v":125.9,"s":"TSEREIT Index"},
    {"d":"2012-07-14","v":124.2,"s":"TSEREIT Index"},
    {"d":"2012-07-20","v":121.9,"s":"TSEREIT Index"},
    {"d":"2012-07-26","v":121.3,"s":"TSEREIT Index"},
    {"d":"2012-08-02","v":123.6,"s":"TSEREIT Index"},
    {"d":"2012-08-08","v":127.1,"s":"TSEREIT Index"},
    {"d":"2012-08-14","v":130.0,"s":"TSEREIT Index"},
    {"d":"2012-08-20","v":126.5,"s":"TSEREIT Index"},
    {"d":"2012-08-26","v":125.3,"s":"TSEREIT Index"},
    {"d":"2012-09-02","v":128.2,"s":"TSEREIT Index"},
    {"d":"2012-09-08","v":132.9,"s":"TSEREIT Index"},
    {"d":"2012-09-15","v":133.5,"s":"TSEREIT Index"},
    {"d":"2012-09-21","v":136.9,"s":"TSEREIT Index"},
    {"d":"2012-09-27","v":134.6,"s":"TSEREIT Index"},
    {"d":"2012-10-03","v":133.5,"s":"TSEREIT Index"},
    {"d":"2012-10-09","v":136.9,"s":"TSEREIT Index"},
    {"d":"2012-10-15","v":135.8,"s":"TSEREIT Index"},
    {"d":"2012-10-21","v":136.9,"s":"TSEREIT Index"},
    {"d":"2012-10-27","v":138.1,"s":"TSEREIT Index"},
    {"d":"2012-11-03","v":132.3,"s":"TSEREIT Index"},
    {"d":"2012-11-10","v":131.1,"s":"TSEREIT Index"},
    {"d":"2012-11-16","v":130.6,"s":"TSEREIT Index"},
    {"d":"2012-11-22","v":128.8,"s":"TSEREIT Index"},
    {"d":"2012-11-28","v":127.1,"s":"TSEREIT Index"},
    {"d":"2012-12-04","v":124.8,"s":"TSEREIT Index"},
    {"d":"2012-12-10","v":125.9,"s":"TSEREIT Index"},
    {"d":"2012-12-16","v":123.0,"s":"TSEREIT Index"},
    {"d":"2012-12-22","v":121.9,"s":"TSEREIT Index"},
    {"d":"2012-12-28","v":124.2,"s":"TSEREIT Index"},
    {"d":"2013-01-05","v":126.5,"s":"TSEREIT Index"},
    {"d":"2013-01-11","v":124.2,"s":"TSEREIT Index"},
    {"d":"2013-01-17","v":124.8,"s":"TSEREIT Index"},
    {"d":"2013-01-23","v":126.5,"s":"TSEREIT Index"},
    {"d":"2013-01-29","v":128.8,"s":"TSEREIT Index"},
    {"d":"2013-02-05","v":131.7,"s":"TSEREIT Index"},
    {"d":"2013-02-11","v":134.0,"s":"TSEREIT Index"},
    {"d":"2013-02-17","v":130.0,"s":"TSEREIT Index"},
    {"d":"2013-02-21","v":142.1,"s":"TSEREIT Index"},
    {"d":"2013-02-25","v":138.7,"s":"TSEREIT Index"},
    {"d":"2013-02-28","v":156.1,"s":"TSEREIT Index"},
    {"d":"2013-03-03","v":150.3,"s":"TSEREIT Index"},
    {"d":"2013-03-07","v":149.7,"s":"TSEREIT Index"},
    {"d":"2013-03-12","v":143.9,"s":"TSEREIT Index"},
    {"d":"2013-03-15","v":138.7,"s":"TSEREIT Index"},
    {"d":"2013-03-19","v":135.8,"s":"TSEREIT Index"},
    {"d":"2013-03-24","v":134.6,"s":"TSEREIT Index"},
    {"d":"2013-03-30","v":132.9,"s":"TSEREIT Index"},
    {"d":"2013-04-06","v":131.7,"s":"TSEREIT Index"},
    {"d":"2013-04-09","v":131.1,"s":"TSEREIT Index"},
    {"d":"2013-04-12","v":124.2,"s":"TSEREIT Index"},
    {"d":"2013-04-15","v":106.8,"s":"TSEREIT Index"},
    {"d":"2013-04-20","v":106.2,"s":"TSEREIT Index"},
    {"d":"2013-04-23","v":117.2,"s":"TSEREIT Index"},
    {"d":"2013-04-27","v":113.7,"s":"TSEREIT Index"},
    {"d":"2013-05-04","v":117.2,"s":"TSEREIT Index"},
    {"d":"2013-05-10","v":114.9,"s":"TSEREIT Index"},
    {"d":"2013-05-16","v":117.2,"s":"TSEREIT Index"},
    {"d":"2013-05-22","v":119.0,"s":"TSEREIT Index"},
    {"d":"2013-05-28","v":113.7,"s":"TSEREIT Index"},
    {"d":"2013-06-04","v":116.1,"s":"TSEREIT Index"},
    {"d":"2013-06-10","v":112.6,"s":"TSEREIT Index"},
    {"d":"2013-06-16","v":111.4,"s":"TSEREIT Index"},
    {"d":"2013-06-22","v":110.3,"s":"TSEREIT Index"},
    {"d":"2013-06-29","v":109.1,"s":"TSEREIT Index"},
    {"d":"2013-07-05","v":113.7,"s":"TSEREIT Index"},
    {"d":"2013-07-11","v":110.8,"s":"TSEREIT Index"},
    {"d":"2013-07-17","v":113.2,"s":"TSEREIT Index"},
    {"d":"2013-07-24","v":113.7,"s":"TSEREIT Index"},
    {"d":"2013-07-30","v":111.4,"s":"TSEREIT Index"},
    {"d":"2013-08-05","v":112.6,"s":"TSEREIT Index"},
    {"d":"2013-08-11","v":110.3,"s":"TSEREIT Index"},
    {"d":"2013-08-18","v":113.2,"s":"TSEREIT Index"},
    {"d":"2013-08-24","v":114.9,"s":"TSEREIT Index"},
    {"d":"2013-08-30","v":118.4,"s":"TSEREIT Index"},
    {"d":"2013-09-04","v":121.3,"s":"TSEREIT Index"},
    {"d":"2013-09-09","v":118.4,"s":"TSEREIT Index"},
    {"d":"2013-09-15","v":120.7,"s":"TSEREIT Index"},
    {"d":"2013-09-21","v":118.4,"s":"TSEREIT Index"},
    {"d":"2013-09-27","v":117.2,"s":"TSEREIT Index"},
    {"d":"2013-10-03","v":119.0,"s":"TSEREIT Index"},
    {"d":"2013-10-09","v":119.5,"s":"TSEREIT Index"},
    {"d":"2013-10-15","v":116.1,"s":"TSEREIT Index"},
    {"d":"2013-10-22","v":113.7,"s":"TSEREIT Index"},
    {"d":"2013-10-28","v":112.0,"s":"TSEREIT Index"},
    {"d":"2013-11-04","v":112.6,"s":"TSEREIT Index"},
    {"d":"2013-11-10","v":111.4,"s":"TSEREIT Index"},
    {"d":"2013-11-16","v":110.3,"s":"TSEREIT Index"},
    {"d":"2013-11-22","v":112.6,"s":"TSEREIT Index"},
    {"d":"2013-11-27","v":110.8,"s":"TSEREIT Index"},
    {"d":"2013-12-04","v":109.1,"s":"TSEREIT Index"},
    {"d":"2013-12-10","v":111.4,"s":"TSEREIT Index"},
    {"d":"2013-12-17","v":110.8,"s":"TSEREIT Index"},
    {"d":"2013-12-23","v":112.0,"s":"TSEREIT Index"},
    {"d":"2013-12-29","v":115.5,"s":"TSEREIT Index"},
    {"d":"2014-01-05","v":117.8,"s":"TSEREIT Index"},
    {"d":"2014-01-09","v":121.9,"s":"TSEREIT Index"},
    {"d":"2014-01-14","v":116.6,"s":"TSEREIT Index"},
    {"d":"2014-01-20","v":118.4,"s":"TSEREIT Index"},
    {"d":"2014-01-26","v":117.2,"s":"TSEREIT Index"},
    {"d":"2014-02-02","v":120.1,"s":"TSEREIT Index"},
    {"d":"2014-02-08","v":116.6,"s":"TSEREIT Index"},
    {"d":"2014-02-14","v":121.3,"s":"TSEREIT Index"},
    {"d":"2014-02-20","v":120.1,"s":"TSEREIT Index"},
    {"d":"2014-02-26","v":121.3,"s":"TSEREIT Index"},
    {"d":"2014-03-03","v":116.6,"s":"TSEREIT Index"},
    {"d":"2014-03-09","v":122.4,"s":"TSEREIT Index"},
    {"d":"2014-03-15","v":123.6,"s":"TSEREIT Index"},
    {"d":"2014-03-21","v":122.4,"s":"TSEREIT Index"},
    {"d":"2014-03-27","v":123.0,"s":"TSEREIT Index"},
    {"d":"2014-04-03","v":124.7,"s":"TSEREIT Index"},
    {"d":"2014-04-10","v":122.4,"s":"TSEREIT Index"},
    {"d":"2014-04-16","v":125.9,"s":"TSEREIT Index"},
    {"d":"2014-04-19","v":126.5,"s":"TSEREIT Index"},
    {"d":"2014-04-25","v":124.7,"s":"TSEREIT Index"},
    {"d":"2014-05-01","v":123.6,"s":"TSEREIT Index"},
    {"d":"2014-05-07","v":121.3,"s":"TSEREIT Index"},
    {"d":"2014-05-13","v":122.4,"s":"TSEREIT Index"},
    {"d":"2014-05-19","v":120.7,"s":"TSEREIT Index"},
    {"d":"2014-05-25","v":121.3,"s":"TSEREIT Index"},
    {"d":"2014-06-01","v":120.1,"s":"TSEREIT Index"},
    {"d":"2014-06-08","v":121.3,"s":"TSEREIT Index"},
    {"d":"2014-06-14","v":119.5,"s":"TSEREIT Index"},
    {"d":"2014-06-20","v":121.9,"s":"TSEREIT Index"},
    {"d":"2014-06-26","v":121.3,"s":"TSEREIT Index"},
    {"d":"2014-07-02","v":120.1,"s":"TSEREIT Index"},
    {"d":"2014-07-08","v":123.0,"s":"TSEREIT Index"},
    {"d":"2014-07-14","v":124.7,"s":"TSEREIT Index"},
    {"d":"2014-07-20","v":123.0,"s":"TSEREIT Index"},
    {"d":"2014-07-26","v":123.6,"s":"TSEREIT Index"},
    {"d":"2014-08-03","v":122.4,"s":"TSEREIT Index"},
    {"d":"2014-08-09","v":121.3,"s":"TSEREIT Index"},
    {"d":"2014-08-15","v":120.1,"s":"TSEREIT Index"},
    {"d":"2014-08-21","v":119.5,"s":"TSEREIT Index"},
    {"d":"2014-08-27","v":118.4,"s":"TSEREIT Index"},
    {"d":"2014-09-03","v":120.7,"s":"TSEREIT Index"},
    {"d":"2014-09-09","v":123.0,"s":"TSEREIT Index"},
    {"d":"2014-09-15","v":128.2,"s":"TSEREIT Index"},
    {"d":"2014-09-20","v":130.5,"s":"TSEREIT Index"},
    {"d":"2014-09-24","v":127.1,"s":"TSEREIT Index"},
    {"d":"2014-09-29","v":128.2,"s":"TSEREIT Index"},
    {"d":"2014-10-04","v":124.2,"s":"TSEREIT Index"},
    {"d":"2014-10-08","v":119.5,"s":"TSEREIT Index"},
    {"d":"2014-10-13","v":118.9,"s":"TSEREIT Index"},
    {"d":"2014-10-19","v":121.3,"s":"TSEREIT Index"},
    {"d":"2014-10-25","v":123.6,"s":"TSEREIT Index"},
    {"d":"2014-11-01","v":125.9,"s":"TSEREIT Index"},
    {"d":"2014-11-07","v":126.5,"s":"TSEREIT Index"},
    {"d":"2014-11-13","v":128.8,"s":"TSEREIT Index"},
    {"d":"2014-11-18","v":130.5,"s":"TSEREIT Index"},
    {"d":"2014-11-22","v":127.1,"s":"TSEREIT Index"},
    {"d":"2014-11-27","v":129.4,"s":"TSEREIT Index"},
    {"d":"2014-12-02","v":131.7,"s":"TSEREIT Index"},
    {"d":"2014-12-06","v":134.6,"s":"TSEREIT Index"},
    {"d":"2014-12-11","v":136.9,"s":"TSEREIT Index"},
    {"d":"2014-12-15","v":140.4,"s":"TSEREIT Index"},
    {"d":"2014-12-20","v":134.6,"s":"TSEREIT Index"},
    {"d":"2014-12-25","v":130.0,"s":"TSEREIT Index"},
    {"d":"2014-12-29","v":127.6,"s":"TSEREIT Index"},
    {"d":"2015-01-04","v":124.7,"s":"TSEREIT Index"},
    {"d":"2015-01-08","v":128.2,"s":"TSEREIT Index"},
    {"d":"2015-01-13","v":123.6,"s":"TSEREIT Index"},
    {"d":"2015-01-17","v":121.9,"s":"TSEREIT Index"},
    {"d":"2015-01-22","v":120.1,"s":"TSEREIT Index"},
    {"d":"2015-01-27","v":119.5,"s":"TSEREIT Index"},
    {"d":"2015-02-03","v":116.6,"s":"TSEREIT Index"},
    {"d":"2015-02-09","v":114.3,"s":"TSEREIT Index"},
    {"d":"2015-02-15","v":112.0,"s":"TSEREIT Index"},
    {"d":"2015-02-21","v":113.2,"s":"TSEREIT Index"},
    {"d":"2015-02-26","v":116.6,"s":"TSEREIT Index"},
    {"d":"2015-03-03","v":114.9,"s":"TSEREIT Index"},
    {"d":"2015-03-09","v":116.6,"s":"TSEREIT Index"},
    {"d":"2015-03-15","v":114.3,"s":"TSEREIT Index"},
    {"d":"2015-03-22","v":113.2,"s":"TSEREIT Index"},
    {"d":"2015-03-28","v":112.0,"s":"TSEREIT Index"},
    {"d":"2015-04-04","v":112.6,"s":"TSEREIT Index"},
    {"d":"2015-04-10","v":110.8,"s":"TSEREIT Index"},
    {"d":"2015-04-16","v":109.7,"s":"TSEREIT Index"},
    {"d":"2015-04-22","v":109.1,"s":"TSEREIT Index"},
    {"d":"2015-04-28","v":107.9,"s":"TSEREIT Index"},
    {"d":"2015-05-04","v":106.2,"s":"TSEREIT Index"},
    {"d":"2015-05-10","v":107.4,"s":"TSEREIT Index"},
    {"d":"2015-05-17","v":105.6,"s":"TSEREIT Index"},
    {"d":"2015-05-23","v":106.2,"s":"TSEREIT Index"},
    {"d":"2015-05-29","v":104.5,"s":"TSEREIT Index"},
    {"d":"2015-06-05","v":102.7,"s":"TSEREIT Index"},
    {"d":"2015-06-11","v":101.0,"s":"TSEREIT Index"},
    {"d":"2015-06-17","v":102.2,"s":"TSEREIT Index"},
    {"d":"2015-06-23","v":103.3,"s":"TSEREIT Index"},
    {"d":"2015-06-29","v":102.7,"s":"TSEREIT Index"},
    {"d":"2015-07-05","v":101.6,"s":"TSEREIT Index"},
    {"d":"2015-07-12","v":100.4,"s":"TSEREIT Index"},
    {"d":"2015-07-18","v":100.4,"s":"TSEREIT Index"},
    {"d":"2015-07-24","v":106.8,"s":"TSEREIT Index"},
    {"d":"2015-07-27","v":106.2,"s":"TSEREIT Index"},
    {"d":"2015-08-03","v":102.7,"s":"TSEREIT Index"},
    {"d":"2015-08-09","v":100.4,"s":"TSEREIT Index"},
    {"d":"2015-08-14","v":97.2,"s":"TSEREIT Index"},
    {"d":"2015-08-18","v":103.9,"s":"TSEREIT Index"},
    {"d":"2015-08-23","v":109.7,"s":"TSEREIT Index"},
    {"d":"2015-08-27","v":113.7,"s":"TSEREIT Index"},
    {"d":"2015-09-02","v":113.2,"s":"TSEREIT Index"},
    {"d":"2015-09-06","v":108.5,"s":"TSEREIT Index"},
    {"d":"2015-09-11","v":109.7,"s":"TSEREIT Index"},
    {"d":"2015-09-16","v":107.4,"s":"TSEREIT Index"},
    {"d":"2015-09-22","v":108.5,"s":"TSEREIT Index"},
    {"d":"2015-09-28","v":106.8,"s":"TSEREIT Index"},
    {"d":"2015-10-04","v":105.0,"s":"TSEREIT Index"},
    {"d":"2015-10-10","v":103.9,"s":"TSEREIT Index"},
    {"d":"2015-10-16","v":105.6,"s":"TSEREIT Index"},
    {"d":"2015-10-22","v":105.0,"s":"TSEREIT Index"},
    {"d":"2015-10-28","v":106.2,"s":"TSEREIT Index"},
    {"d":"2015-11-04","v":107.9,"s":"TSEREIT Index"},
    {"d":"2015-11-11","v":106.2,"s":"TSEREIT Index"},
    {"d":"2015-11-17","v":108.5,"s":"TSEREIT Index"},
    {"d":"2015-11-23","v":110.3,"s":"TSEREIT Index"},
    {"d":"2015-11-29","v":109.7,"s":"TSEREIT Index"},
    {"d":"2015-12-05","v":113.2,"s":"TSEREIT Index"},
    {"d":"2015-12-11","v":115.5,"s":"TSEREIT Index"},
    {"d":"2015-12-17","v":117.2,"s":"TSEREIT Index"},
    {"d":"2015-12-22","v":119.5,"s":"TSEREIT Index"},
    {"d":"2015-12-26","v":118.9,"s":"TSEREIT Index"},
    {"d":"2003-09-10","v":100,"s":"TOPIX"},
    {"d":"2016-01-01","v":100,"s":"TOPIX"}
  ]},
  "encoding": {
    "x": {"field": "d", "type": "temporal",
      "scale": {"type": "utc", "domain": [{"year": 2003, "month": 9, "date": 10, "utc": true}, {"year": 2016, "month": 1, "date": 1, "utc": true}]},
      "axis": {"title": null, "format": "%-m/%Y", "labelAngle": 45, "labelAlign": "left", "labelBaseline": "top", "labelFontSize": 13, "labelColor": "#333333", "labelPadding": 6, "ticks": false, "domain": false, "grid": false, "labelOverlap": false, "labelFlush": false,
        "values": [
          {"year": 2003, "month": 9, "date": 10, "utc": true},
          {"year": 2004, "month": 1, "date": 1, "utc": true},
          {"year": 2005, "month": 1, "date": 1, "utc": true},
          {"year": 2006, "month": 1, "date": 1, "utc": true},
          {"year": 2007, "month": 1, "date": 1, "utc": true},
          {"year": 2008, "month": 1, "date": 1, "utc": true},
          {"year": 2009, "month": 1, "date": 1, "utc": true},
          {"year": 2010, "month": 1, "date": 1, "utc": true},
          {"year": 2011, "month": 1, "date": 1, "utc": true},
          {"year": 2012, "month": 1, "date": 1, "utc": true},
          {"year": 2013, "month": 1, "date": 1, "utc": true},
          {"year": 2014, "month": 1, "date": 1, "utc": true},
          {"year": 2015, "month": 1, "date": 1, "utc": true},
          {"year": 2016, "month": 1, "date": 1, "utc": true}
        ]}},
    "y": {"field": "v", "type": "quantitative",
      "scale": {"domain": [80, 160], "nice": false, "zero": false},
      "axis": {"title": null, "values": [80, 90, 100, 110, 120, 130, 140, 150, 160], "labelFontSize": 13, "labelFontWeight": "bold", "labelColor": "#333333", "labelPadding": 12, "ticks": false, "domain": false, "gridColor": "#ffffff", "gridWidth": 1.5, "gridOpacity": 1}},
    "color": {"field": "s", "type": "nominal",
      "scale": {"domain": ["TSEREIT Index", "TOPIX"], "range": ["#8db3e2", "#a50021"]},
      "legend": {"title": null, "orient": "none", "legendX": 60, "legendY": 22, "direction": "horizontal", "symbolType": "stroke", "symbolSize": 900, "labelFontSize": 15, "labelFontWeight": "bold", "labelColor": "#333333", "columnPadding": 16, "labelOffset": 7, "padding": 0,
        "encode": {"symbols": {"update": {"strokeWidth": {"signal": "datum.value === 'TOPIX' ? 4 : 1.2"}}}}}
    }
  },
  "layer": [
    {"transform": [{"filter": "datum.s !== 'TOPIX'"}], "mark": {"type": "line", "strokeWidth": 1, "clip": true}},
    {"transform": [{"filter": "datum.s === 'TOPIX'"}], "mark": {"type": "line", "strokeWidth": 4}}
  ]
}
